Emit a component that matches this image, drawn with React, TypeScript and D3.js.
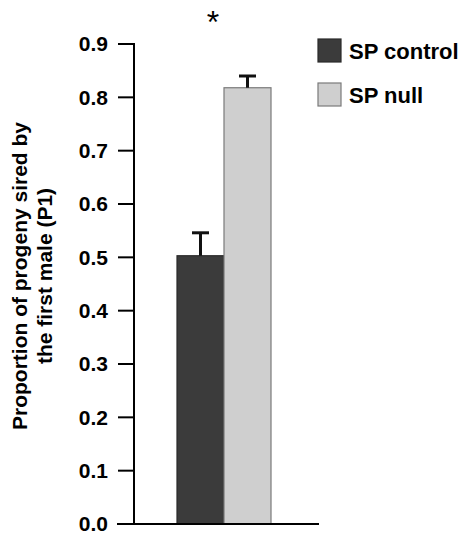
import React from "react";
import * as d3 from "d3";

const groups = ["SP control", "SP null"];
const means = [0.503, 0.818];
const errors = [0.043, 0.022];
const colors = ["#3b3b3b", "#cfcfcf"];
const strokes = ["#2a2a2a", "#7a7a7a"];
const yTicks = [0, 0.1, 0.2, 0.3, 0.4, 0.5, 0.6, 0.7, 0.8, 0.9];
const yLabelLines = ["Proportion of progeny sired by", "the first male (P1)"];
const signif = "*";

const W = 458;
const H = 534;
const font = "Liberation Sans, Arial, Helvetica, sans-serif";

export default function App() {
  const y = d3.scaleLinear().domain([0, 0.9]).range([524, 44]);
  const x = d3.scaleBand<string>().domain(groups).range([177, 271]).paddingInner(0).paddingOuter(0);
  const axisX = 134;
  const capW = 17;

  return (
    <svg
      width={W}
      height={H}
      style={{ position: "absolute", left: 0, top: 0, background: "#fff" }}
      fontFamily={font}
    >
      {/* bars */}
      {groups.map((g, i) => (
        <rect
          key={g}
          x={x(g)!}
          y={y(means[i])}
          width={x.bandwidth()}
          height={y(0) - y(means[i])}
          fill={colors[i]}
          stroke={strokes[i]}
          strokeWidth={1.2}
        />
      ))}
      {/* error bars */}
      {groups.map((g, i) => {
        const cx = x(g)! + x.bandwidth() / 2;
        return (
          <g key={"e" + g} stroke="#111" strokeWidth={3}>
            <line x1={cx} x2={cx} y1={y(means[i])} y2={y(means[i] + errors[i])} />
            <line x1={cx - capW / 2} x2={cx + capW / 2} y1={y(means[i] + errors[i])} y2={y(means[i] + errors[i])} />
          </g>
        );
      })}
      {/* y axis */}
      <line x1={axisX} x2={axisX} y1={y(0.9) - 1} y2={y(0)} stroke="#000" strokeWidth={2} />
      {yTicks.map((t) => (
        <g key={t}>
          <line x1={118} x2={axisX} y1={y(t)} y2={y(t)} stroke="#000" strokeWidth={2} />
          <text
            x={108}
            y={y(t)}
            dy="0.35em"
            textAnchor="end"
            fontSize={21}
            fontWeight="bold"
            fill="#000"
          >
            {d3.format(".1f")(t)}
          </text>
        </g>
      ))}
      {/* x axis */}
      <line x1={117} x2={319} y1={y(0)} y2={y(0)} stroke="#000" strokeWidth={2} />
      {/* y label */}
      <g transform={`translate(0,276) rotate(-90)`}>
        {yLabelLines.map((l, i) => (
          <text
            key={l}
            x={0}
            y={27 + i * 25}
            textAnchor="middle"
            fontSize={21}
            fontWeight="bold"
            fill="#000"
          >
            {l}
          </text>
        ))}
      </g>
      {/* significance */}
      <text x={213} y={33} textAnchor="middle" fontSize={32} fill="#000">
        {signif}
      </text>
      {/* legend */}
      {groups.map((g, i) => (
        <g key={"l" + g} transform={`translate(318,${39 + i * 44})`}>
          <rect width={23} height={23} fill={colors[i]} stroke={strokes[i]} strokeWidth={1.2} />
          <text x={31} y={20} fontSize={22} fontWeight="bold" fill="#000">
            {g}
          </text>
        </g>
      ))}
    </svg>
  );
}
